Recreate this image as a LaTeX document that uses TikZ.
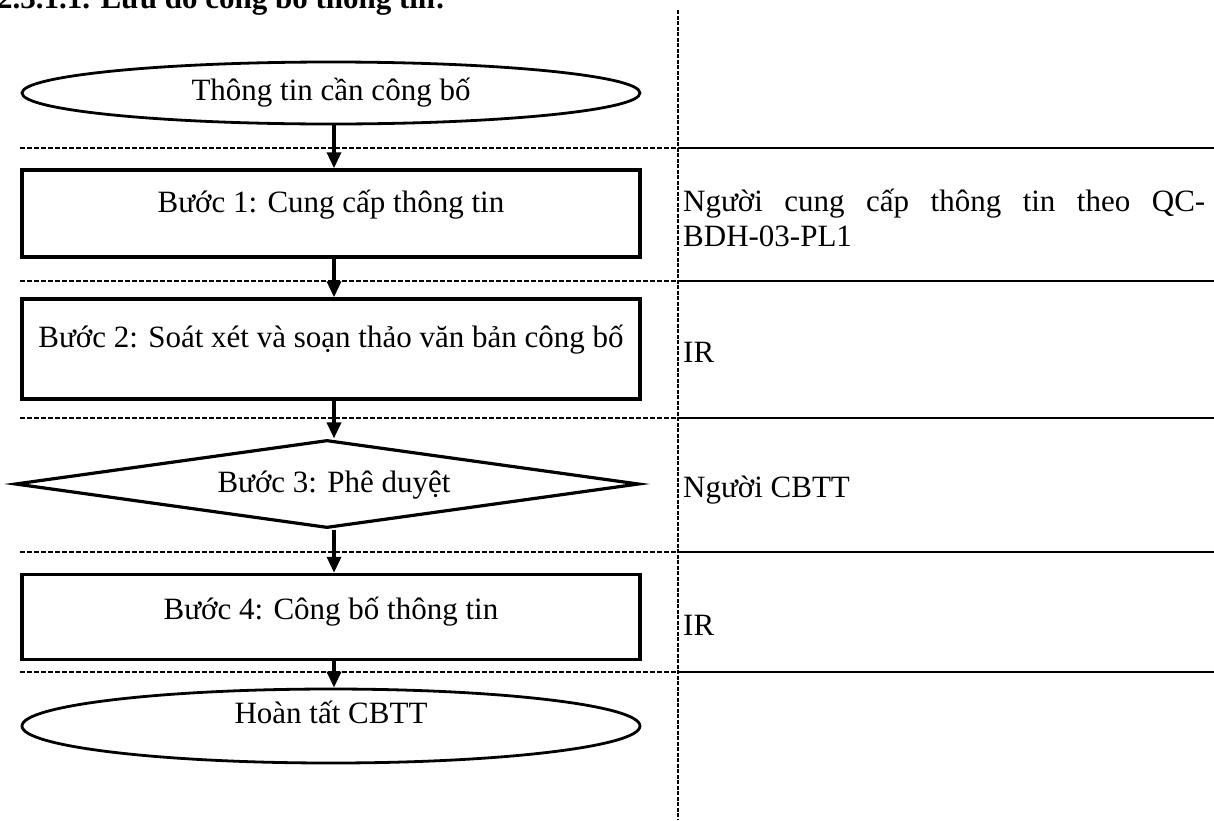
\documentclass[tikz,border=0pt]{standalone}
\usepackage{fontspec}
\setmainfont{Liberation Serif}
\usetikzlibrary{shapes.geometric,arrows.meta}
\begin{document}
\begin{tikzpicture}[x=1pt,y=-1pt,
  every node/.style={font=\fontsize{31}{35.5}\selectfont},
  sepline/.style={line width=1.3pt, dash pattern=on 5pt off 2pt},
  vline/.style={line width=2.2pt, dash pattern=on 4pt off 1.5pt},
  rline/.style={line width=2pt},
  procbox/.style={draw, line width=3.5pt, rectangle, minimum width=618pt, inner sep=0pt},
  termnode/.style={draw, line width=2.8pt, ellipse, minimum width=618pt, inner sep=0pt},
  decnode/.style={draw, line width=3.2pt, diamond, minimum width=624pt, minimum height=88pt, inner sep=0pt},
  flow/.style={line width=3.5pt, -{Triangle[length=16pt,width=14pt]}},
  lbl/.style={inner sep=0pt}
]
\useasboundingbox (0,0) rectangle (1214,820);
\clip (0,0) rectangle (1214,820);

% title (cut off at top)
\node[lbl, anchor=base west, font=\fontsize{31}{35.5}\selectfont\bfseries] (title) at (-3,8) {2.3.1.1. Lưu đồ công bố thông tin:};

% separators
\coordinate (vt) at (678,10);
\coordinate (vb) at (678,820);
\draw[vline] (vt) -- (vb);
\foreach \yy/\nm in {148/a,281/b,418/c,552/d,672/e}{
  \coordinate (L\nm) at (20,\yy);
  \coordinate (M\nm) at (678,\yy);
  \coordinate (R\nm) at (1214,\yy);
  \draw[sepline] (L\nm) -- (M\nm);
  \draw[rline] (M\nm) -- (R\nm);
}

% shapes
\node[termnode, minimum height=62pt] (e1) at (331,93) {};
\node[lbl] (te1) at (331,93) {Thông tin cần công bố};

\node[procbox, minimum height=87pt] (b1) at (331,213.5) {};
\node[lbl] (tb1) at (331,205) {Bước 1: Cung cấp thông tin};

\node[procbox, minimum height=100pt] (b2) at (331,349) {};
\node[lbl] (tb2) at (331,340) {Bước 2: Soát xét và soạn thảo văn bản công bố};

\node[decnode] (d3) at (327,484) {};
\node[lbl] (td3) at (334,485) {Bước 3: Phê duyệt};

\node[procbox, minimum height=85pt] (b4) at (331,617) {};
\node[lbl] (tb4) at (331,612) {Bước 4: Công bố thông tin};

\node[termnode, minimum height=74pt] (e2) at (331,726) {};
\node[lbl] (te2) at (331,712) {Hoàn tất CBTT};

% arrows
\draw[flow] (e1.south -| 334,0) -- (b1.north -| 334,0);
\draw[flow] (b1.south -| 334,0) -- (b2.north -| 334,0);
\draw[flow] (b2.south -| 334,0) -- (d3.north -| 334,0);
\draw[flow] (d3.south -| 334,0) -- (b4.north -| 334,0);
\draw[flow] (b4.south -| 334,0) -- (e2.north -| 334,0);

% right column
\node[lbl, anchor=west, text width=522pt, align=justify] (r1) at (683,218) {Người cung cấp thông tin theo QC-\linebreak BDH-03-PL1};
\node[lbl, anchor=base west] (r2) at (683,362) {IR};
\node[lbl, anchor=base west] (r3) at (683,497) {Người CBTT};
\node[lbl, anchor=base west] (r4) at (683,635) {IR};
\end{tikzpicture}
\end{document}
